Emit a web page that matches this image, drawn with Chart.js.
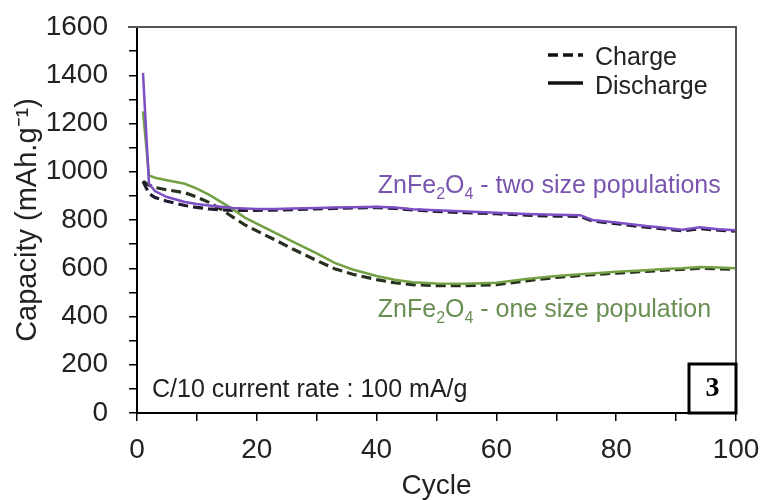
<!DOCTYPE html>
<html><head><meta charset="utf-8">
<script src="https://cdn.jsdelivr.net/npm/chart.js@4.4.0/dist/chart.umd.min.js"></script>
<style>html,body{margin:0;padding:0;background:#fff;}#wrap{width:765px;height:500px;}</style>
</head><body><div id="wrap"><canvas id="c" width="765" height="500"></canvas></div>
<script>
// ---- data ----
const cycles = [1,2,3,5,8,10,12,14,16,18,20,23,26,30,33,36,40,43,46,50,55,60,65,70,74,76,80,85,88,91,94,97,100];
const twoSizeDischarge = [1410,950,920,895,875,866,860,855,850,848,846,846,848,850,852,853,855,852,845,840,835,830,825,822,820,800,790,775,768,760,770,762,758];
const twoSizeCharge    = [960,910,893,878,860,852,846,842,840,840,840,841,843,846,848,850,852,848,842,836,830,826,820,816,815,796,785,770,763,755,764,758,754];
const oneSizeDischarge = [1250,985,975,965,950,930,905,875,845,810,785,748,710,662,622,595,568,552,542,537,536,540,555,568,575,578,585,592,597,600,605,603,600];
const oneSizeCharge    = [960,945,935,925,913,895,873,845,812,780,755,718,680,632,598,575,553,540,532,528,528,532,548,562,570,573,580,587,592,595,600,598,595];
const xMajorTicks = [0,20,40,60,80,100];
const yMajorTicks = [0,200,400,600,800,1000,1200,1400,1600];
const seriesNames = ['ZnFe2O4 - two size populations','ZnFe2O4 - one size population'];
const legendNames = ['Charge','Discharge'];
const xTitle = 'Cycle';
const yTitle = 'Capacity (mAh.g\u207B\u00B9)';
const noteText = 'C/10 current rate : 100 mA/g';
const panelLabel = '3';

const FONT = "'Liberation Sans', Arial, sans-serif";
const PURPLE = '#7d4fc6', GREEN = '#72a043';
const PURPLE_TXT = '#7a55b0', GREEN_TXT = '#6a8f52';
const pts = arr => cycles.map((c,i)=>({x:c,y:arr[i]}));

const decor = {
  id:'decor',
  afterDatasetsDraw(chart){
    const {ctx, chartArea:a, scales:{x,y}} = chart;
    ctx.save();
    // frame top/right
    ctx.strokeStyle = '#555'; ctx.lineWidth = 2; ctx.setLineDash([]);
    ctx.beginPath(); ctx.moveTo(a.left-9, a.top); ctx.lineTo(a.right, a.top); ctx.lineTo(a.right, a.bottom); ctx.stroke();
    // legend
    ctx.strokeStyle = '#111'; ctx.lineWidth = 3.5;
    ctx.setLineDash([10,5]);
    ctx.beginPath(); ctx.moveTo(a.right-188, a.top+28); ctx.lineTo(a.right-153, a.top+28); ctx.stroke();
    ctx.setLineDash([]);
    ctx.beginPath(); ctx.moveTo(a.right-188, a.top+56); ctx.lineTo(a.right-153, a.top+56); ctx.stroke();
    ctx.fillStyle = '#222'; ctx.font = '25px ' + FONT; ctx.textBaseline = 'alphabetic'; ctx.textAlign='left';
    ctx.fillText(legendNames[0], a.right-141, a.top+38);
    ctx.fillText(legendNames[1], a.right-141, a.top+67);
    // series annotations with subscripts
    const rich = (name, px, py, color) => {
      const m = name.match(/^ZnFe2O4(.*)$/);
      const segs = [['ZnFe',0],['2',1],['O',0],['4',1],[m[1],0]];
      let cx = px;
      ctx.fillStyle = color;
      for (const [t,sub] of segs){
        ctx.font = (sub? '16px ' : '25px ') + FONT;
        ctx.fillText(t, cx, py + (sub?6:0));
        cx += ctx.measureText(t).width;
      }
    };
    rich(seriesNames[0], x.getPixelForValue(40.2), y.getPixelForValue(912), PURPLE_TXT);
    rich(seriesNames[1], x.getPixelForValue(40.2), y.getPixelForValue(398), GREEN_TXT);
    // note
    ctx.fillStyle = '#222'; ctx.font = '25px ' + FONT;
    ctx.fillText(noteText, a.left+15, a.bottom-16);
    // panel box
    ctx.strokeStyle = '#000'; ctx.lineWidth = 3;
    ctx.strokeRect(a.right-47, a.bottom-49, 47, 49);
    ctx.fillStyle = '#000'; ctx.font = "bold 28px 'Liberation Serif', 'Times New Roman', serif";
    ctx.textAlign = 'center'; ctx.textBaseline = 'middle';
    ctx.fillText(panelLabel, a.right-23.5, a.bottom-24);
    ctx.restore();
  }
};

new Chart(document.getElementById('c'), {
  type:'line',
  data:{datasets:[
    {label:'two size - discharge', data:pts(twoSizeDischarge), borderColor:PURPLE, borderWidth:2.5, pointRadius:0, tension:0},
    {label:'one size - discharge', data:pts(oneSizeDischarge), borderColor:GREEN, borderWidth:2.5, pointRadius:0, tension:0},
    {label:'two size - charge', data:pts(twoSizeCharge), borderColor:'#231a30', borderWidth:3.2, borderDash:[10,5], pointRadius:0, tension:0},
    {label:'one size - charge', data:pts(oneSizeCharge), borderColor:'#26321f', borderWidth:3.2, borderDash:[10,5], pointRadius:0, tension:0}
  ]},
  options:{
    responsive:false, animation:false, devicePixelRatio:1,
    layout:{padding:{top:27,right:29,left:0,bottom:0}},
    plugins:{legend:{display:false}, tooltip:{enabled:false}},
    scales:{
      x:{type:'linear', min:0, max:100,
        afterFit(s){ s.height = 87; s.paddingLeft = 0; s.paddingRight = 0; },
        ticks:{stepSize:10, autoSkip:false, maxRotation:0, padding:12, color:'#222',
          font:{family:FONT, size:28},
          callback:v => xMajorTicks.includes(v) ? String(v) : ''},
        grid:{drawOnChartArea:false, drawTicks:true, tickLength:8, color:'#000', lineWidth:1.5},
        border:{color:'#000', width:2},
        title:{display:true, text:xTitle, color:'#222', font:{family:FONT, size:28, lineHeight:1}, padding:{top:0,bottom:0}}
      },
      y:{min:0, max:1600,
        afterFit(s){ s.width = 137; s.paddingTop = 0; s.paddingBottom = 0; },
        ticks:{stepSize:100, autoSkip:false, padding:21, color:'#222',
          font:{family:FONT, size:28},
          callback:v => yMajorTicks.includes(v) ? String(v) : ''},
        grid:{drawOnChartArea:false, drawTicks:true, tickLength:8, color:'#000', lineWidth:1.5},
        border:{color:'#000', width:2},
        title:{display:true, text:yTitle, color:'#222', font:{family:FONT, size:29, lineHeight:1}, padding:{top:13,bottom:0}}
      }
    }
  },
  plugins:[decor]
});
</script></body></html>
